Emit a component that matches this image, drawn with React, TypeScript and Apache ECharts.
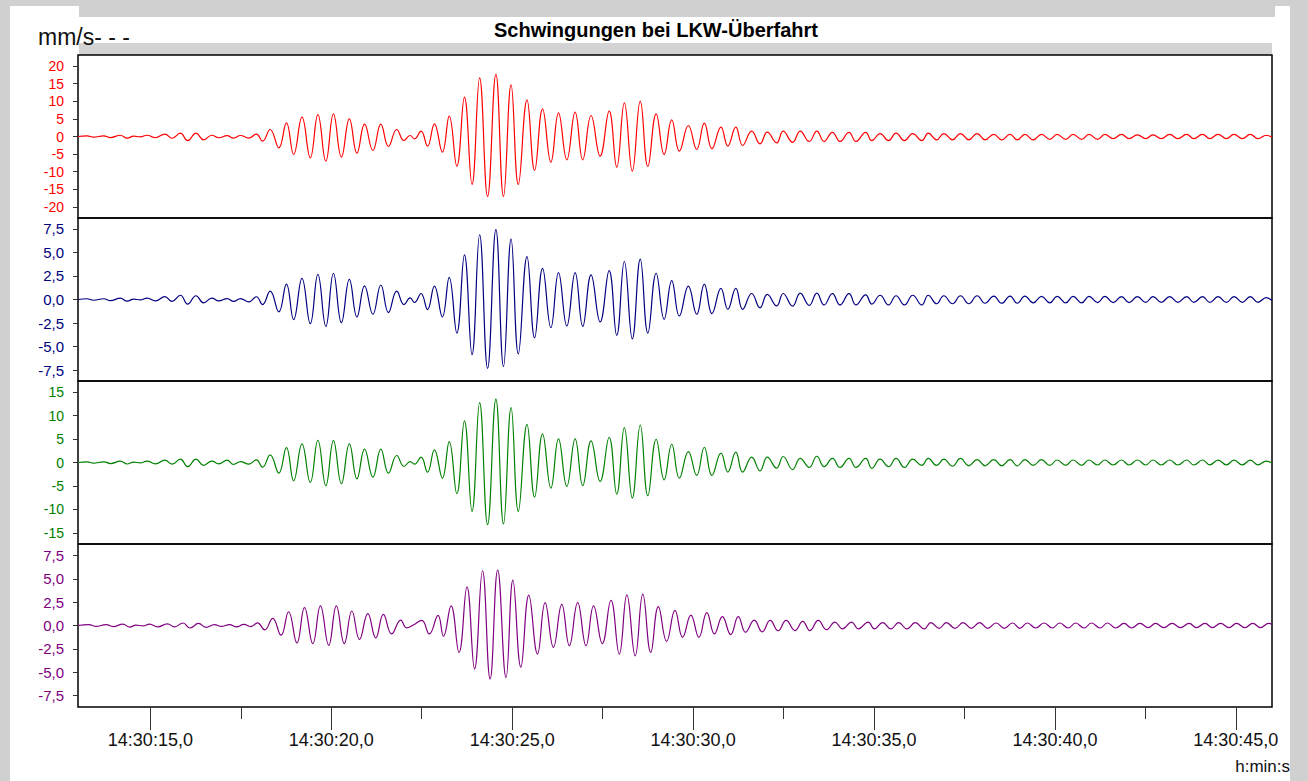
import React, { useEffect, useRef } from "react";
import * as echarts from "echarts";

// ---- time stamps (seconds after 14:30:00) of the signal extrema ----
const timesA = [13.0, 13.25, 13.43, 13.71, 13.9, 14.17, 14.36, 14.54, 14.72, 14.91, 15.14, 15.4, 15.6, 15.83, 16.03, 16.26, 16.47, 16.7, 16.89, 17.12, 17.3];
const timesB = [17.49, 17.72, 17.93, 18.1, 18.31, 18.55, 18.76, 18.96, 19.19, 19.42, 19.63, 19.85, 20.06, 20.28, 20.5, 20.71, 20.92, 21.15, 21.37, 21.58, 21.81, 22.01, 22.18, 22.3, 22.48, 22.66, 22.85, 23.07, 23.26, 23.47, 23.68, 23.89, 24.1, 24.32, 24.55, 24.76];
const timesC = [24.97, 25.17, 25.41, 25.62, 25.84, 26.07, 26.28, 26.51, 26.74, 26.95, 27.18, 27.43, 27.68, 27.89, 28.1, 28.32, 28.54, 28.75, 28.98, 29.2, 29.41, 29.62, 29.87, 30.1, 30.31, 30.52, 30.77, 30.96, 31.18, 31.37, 31.62, 31.85, 32.05, 32.31, 32.49];
const timesD = [
  32.75, 32.96, 33.21, 33.42, 33.62, 33.85, 34.06, 34.31, 34.5, 34.77,
  34.94, 35.17, 35.4, 35.61, 35.84, 36.07, 36.32, 36.5, 36.73, 36.93,
  37.17, 37.39, 37.62, 37.85, 38.07, 38.31, 38.53, 38.76, 38.96, 39.17,
  39.4, 39.63, 39.86, 40.06, 40.3, 40.5, 40.74, 40.94, 41.18, 41.38,
  41.61, 41.84, 42.05, 42.28, 42.51, 42.71, 42.94, 43.17, 43.4, 43.64,
  43.84, 44.08, 44.28, 44.51, 44.74, 44.95, 45.18, 45.4, 45.61, 45.84,
  46.0,
];

// ---- channel 1 (red) ----
const redA = [0, 0.2, -0.2, 0.2, -0.3, 0.35, -0.45, 0.1, -0.1, 0.35, -0.35, 0.7, -0.5, 0.94, -1.18, 0.94, -0.94, 0.35, -0.35, 0.24, -0.47];
const redB = [0.28, -0.47, 0.66, -1.32, 1.99, -3.21, 3.88, -5.11, 5.48, -6.05, 6.24, -7.0, 6.43, -5.86, 5.01, -4.73, 3.5, -3.97, 3.5, -2.84, 1.99, -1.13, 0.28, -0.66, 1.51, -2.74, 3.59, -4.44, 5.77, -8.42, 11.16, -13.62, 16.64, -17.02, 17.68, -17.02];
const redC = [14.66, -13.62, 10.4, -9.65, 7.85, -7.28, 6.71, -6.62, 6.9, -6.62, 5.96, -5.58, 7.19, -8.7, 9.55, -9.83, 10.02, -8.51, 6.43, -5.11, 4.73, -4.16, 3.12, -3.69, 3.78, -3.5, 2.65, -2.74, 2.65, -2.55, 1.51, -2.08, 1.23, -1.8, 1.51];
const redD = [
  -1.65, 1.53, -1.41, 1.53, -1.41, 1.18, -1.41, 1.18, -1.41, 1.18,
  -1.18, 0.83, -1.18, 0.94, -1.18, 0.83, -1.18, 0.94, -0.94, 0.83,
  -0.94, 0.83, -0.94, 0.83, -0.94, 0.6, -0.94, 0.6, -0.94, 0.6,
  -0.94, 0.6, -0.83, 0.6, -0.83, 0.6, -0.83, 0.6, -0.83, 0.6,
  -0.6, 0.6, -0.6, 0.47, -0.6, 0.47, -0.6, 0.6, -0.6, 0.6,
  -0.6, 0.6, -0.6, 0.6, -0.6, 0.6, -0.6, 0.6, -0.6, 0.35,
  -0.2,
];

// ---- channel 2 (navy) ----
const blueA = [0, 0.08, -0.08, 0.08, -0.12, 0.14, -0.18, 0.05, -0.05, 0.15, -0.15, 0.3, -0.2, 0.45, -0.5, 0.4, -0.36, 0.15, -0.15, 0.1, -0.2];
const blueB = [0.1, -0.25, 0.29, -0.54, 0.89, -1.32, 1.64, -2.14, 2.25, -2.57, 2.68, -2.86, 2.79, -2.46, 2.14, -1.86, 1.46, -1.57, 1.54, -1.39, 0.89, -0.54, 0.18, -0.32, 0.64, -1.07, 1.43, -1.86, 2.36, -3.57, 4.75, -5.86, 6.89, -7.32, 7.43, -7.14];
const blueC = [6.43, -5.79, 4.57, -4.07, 3.32, -3.0, 2.86, -2.82, 2.86, -2.86, 2.61, -2.39, 3.07, -3.82, 4.04, -4.18, 4.29, -3.57, 2.79, -2.11, 2.0, -1.75, 1.43, -1.57, 1.64, -1.5, 1.18, -1.04, 1.18, -1.04, 0.64, -0.89, 0.54, -0.68, 0.64];
const blueD = [
  -0.71, 0.67, -0.63, 0.67, -0.58, 0.62, -0.58, 0.62, -0.58, 0.49,
  -0.49, 0.45, -0.58, 0.4, -0.58, 0.45, -0.58, 0.45, -0.45, 0.4,
  -0.45, 0.4, -0.45, 0.4, -0.4, 0.36, -0.4, 0.36, -0.4, 0.36,
  -0.36, 0.33, -0.36, 0.33, -0.36, 0.33, -0.36, 0.33, -0.33, 0.33,
  -0.33, 0.3, -0.33, 0.3, -0.3, 0.3, -0.3, 0.3, -0.3, 0.3,
  -0.3, 0.3, -0.3, 0.3, -0.3, 0.3, -0.3, 0.3, -0.3, 0.2,
  -0.1,
];

// ---- channel 3 (green) ----
const greenA = [0, 0.15, -0.15, 0.15, -0.22, 0.28, -0.32, 0.1, -0.1, 0.28, -0.28, 0.5, -0.35, 0.7, -0.9, 0.7, -0.6, 0.28, -0.3, 0.5, -0.4];
const greenB = [0.2, -0.35, 0.57, -1.0, 1.63, -2.27, 3.19, -3.9, 3.97, -4.26, 4.75, -4.96, 4.68, -4.54, 3.97, -3.48, 2.84, -3.12, 2.84, -2.27, 1.49, -0.85, 0.2, -0.35, 1.13, -2.06, 2.7, -3.33, 4.47, -6.67, 8.87, -10.43, 12.77, -13.26, 13.55, -13.12];
const greenC = [11.7, -10.43, 8.16, -7.38, 6.1, -5.46, 5.04, -5.1, 5.04, -4.96, 4.61, -4.04, 5.39, -6.74, 7.45, -7.59, 8.01, -7.09, 4.96, -3.69, 3.9, -3.33, 2.34, -2.77, 3.26, -2.77, 1.99, -2.06, 2.2, -2.06, 1.13, -1.77, 1.13, -1.2, 1.28];
const greenD = [
  -1.5, 0.88, -1.06, 1.33, -0.88, 0.88, -1.06, 0.88, -1.06, 0.88,
  -1.24, 0.7, -0.88, 0.88, -1.06, 0.7, -0.62, 0.88, -0.62, 0.7,
  -0.8, 0.88, -0.7, 0.62, -0.7, 0.62, -0.7, 0.62, -0.7, 0.62,
  -0.62, 0.62, -0.62, 0.53, -0.62, 0.53, -0.62, 0.53, -0.53, 0.53,
  -0.53, 0.53, -0.53, 0.53, -0.53, 0.53, -0.53, 0.53, -0.53, 0.53,
  -0.53, 0.53, -0.5, 0.5, -0.5, 0.5, -0.5, 0.5, -0.5, 0.3,
  -0.1,
];

// ---- channel 4 (purple), slightly delayed extrema ----
const purpleTimes = [
  13.0, 13.3, 13.5, 13.78, 13.97, 14.24, 14.43, 14.6, 14.8, 14.98, 15.2, 15.47, 15.67, 15.9, 16.1, 16.33, 16.54, 16.77, 16.96, 17.19, 17.38,
  17.58, 17.78, 17.96, 18.16, 18.38, 18.61, 18.82, 19.05, 19.26, 19.49, 19.7, 19.93, 20.14, 20.36, 20.57, 20.78, 21.01, 21.23, 21.44, 21.67, 21.92, 22.08, 22.27, 22.5, 22.71, 22.95, 23.1, 23.31, 23.53, 23.75, 23.96, 24.18, 24.39, 24.6, 24.83,
  25.02, 25.24, 25.46, 25.7, 25.91, 26.14, 26.37, 26.58, 26.81, 27.04, 27.25, 27.49, 27.73, 27.96, 28.17, 28.4, 28.61, 28.83, 29.04, 29.27, 29.5, 29.71, 29.94, 30.16, 30.38, 30.59, 30.81, 31.04, 31.25, 31.45, 31.69, 31.91, 32.13, 32.35, 32.57,
  32.82, 33.03, 33.23, 33.46, 33.69, 33.92, 34.13, 34.38, 34.57, 34.84,
  35.01, 35.24, 35.47, 35.68, 35.91, 36.14, 36.39, 36.57, 36.8, 37.0,
  37.24, 37.46, 37.69, 37.92, 38.14, 38.38, 38.6, 38.83, 39.03, 39.24,
  39.47, 39.7, 39.93, 40.13, 40.37, 40.57, 40.81, 41.01, 41.25, 41.45,
  41.68, 41.91, 42.12, 42.35, 42.58, 42.78, 43.01, 43.24, 43.47, 43.71,
  43.91, 44.15, 44.35, 44.58, 44.81, 45.02, 45.25, 45.47, 45.68, 45.91,
  46.0,
];
const purpleValues = [
  0, 0.1, -0.1, 0.1, -0.12, 0.15, -0.18, 0.05, -0.05, 0.15, -0.15, 0.18, -0.15, 0.27, -0.27, 0.22, -0.2, 0.1, -0.1, 0.1, -0.15,
  0.11, -0.11, 0.29, -0.47, 0.76, -1.04, 1.47, -1.87, 1.91, -1.94, 2.09, -2.12, 2.09, -1.94, 1.55, -1.51, 1.26, -1.33, 1.19, -0.9, 0.58, -0.25, 0.05, 0.54, -0.9, 1.08, -1.15, 2.09, -2.88, 4.14, -4.64, 5.86, -5.72, 5.94, -5.58,
  4.86, -4.46, 3.24, -3.06, 2.45, -2.34, 2.27, -2.16, 2.45, -2.16, 2.09, -1.94, 2.7, -3.06, 3.27, -3.24, 3.35, -2.88, 2.01, -1.69, 1.62, -1.26, 1.12, -1.26, 1.37, -0.9, 0.94, -0.97, 0.94, -0.72, 0.58, -0.68, 0.54, -0.56, 0.54,
  -0.54, 0.45, -0.54, 0.54, -0.45, 0.36, -0.36, 0.36, -0.36, 0.36,
  -0.36, 0.3, -0.36, 0.3, -0.36, 0.3, -0.36, 0.3, -0.3, 0.3,
  -0.3, 0.3, -0.3, 0.3, -0.3, 0.27, -0.3, 0.27, -0.3, 0.27,
  -0.27, 0.27, -0.27, 0.27, -0.27, 0.27, -0.27, 0.27, -0.27, 0.27,
  -0.27, 0.22, -0.27, 0.22, -0.22, 0.22, -0.22, 0.22, -0.22, 0.22,
  -0.22, 0.22, -0.22, 0.22, -0.22, 0.22, -0.22, 0.22, -0.22, 0.22,
  0.1,
];

// ---- axes ----
const xMajorTicks = [15, 20, 25, 30, 35, 40, 45];
const xMinorTicks = [17.5, 22.5, 27.5, 32.5, 37.5, 42.5];
const yTicks1 = [-20, -15, -10, -5, 0, 5, 10, 15, 20];
const yTicks2 = [-7.5, -5, -2.5, 0, 2.5, 5, 7.5];
const yTicks3 = [-15, -10, -5, 0, 5, 10, 15];
const yTicks4 = [-7.5, -5, -2.5, 0, 2.5, 5, 7.5];
const yLimits = [23.15, 8.67, 17.4, 8.72];

const TITLE = "Schwingungen bei LKW-Überfahrt";
const UNIT = "mm/s- - -";
const X_UNIT = "h:min:s";

const COLORS = ["#ff0000", "#000080", "#008000", "#800080"];
const FONT = "'Liberation Sans', Arial, sans-serif";

const mainTimes = [...timesA, ...timesB, ...timesC, ...timesD];
const red = [...redA, ...redB, ...redC, ...redD];
const blue = [...blueA, ...blueB, ...blueC, ...blueD];
const green = [...greenA, ...greenB, ...greenC, ...greenD];

const pairs = (ts: number[], vs: number[]) => ts.map((t, i) => [t, vs[i]]);

export default function App() {
  const ref = useRef<HTMLDivElement>(null);
  useEffect(() => {
    if (!ref.current) return;
    const chart = echarts.init(ref.current, undefined, { renderer: "svg" });
    const tops = [55, 218, 381, 544];
    const gridH = 163;
    const ticks = [yTicks1, yTicks2, yTicks3, yTicks4];
    const decimals = [0, 1, 0, 1];
    const labelSizes = [14, 15, 14, 15];
    const grids = tops.map((top) => ({
      left: 78,
      right: 36,
      top,
      height: gridH,
      show: true,
      borderColor: "#000",
      borderWidth: 1.5,
      backgroundColor: "transparent",
    }));
    const xAxes: any[] = tops.map((_, i) => ({
      type: "value",
      gridIndex: i,
      min: 13,
      max: 46,
      position: "bottom",
      axisLine: { show: false, onZero: false },
      splitLine: { show: false },
      axisTick:
        i === 3
          ? { show: true, customValues: xMajorTicks, length: 23, lineStyle: { color: "#333", width: 1 } }
          : { show: false },
      axisLabel:
        i === 3
          ? {
              show: true,
              customValues: xMajorTicks,
              margin: 24,
              color: "#111",
              fontSize: 18,
              fontFamily: FONT,
              formatter: (v: number) => `14:30:${String(Math.round(v)).padStart(2, "0")},0`,
            }
          : { show: false },
    }));
    xAxes.push({
      type: "value",
      gridIndex: 3,
      min: 13,
      max: 46,
      position: "bottom",
      axisLine: { show: false, onZero: false },
      splitLine: { show: false },
      axisTick: { show: true, customValues: xMinorTicks, length: 12, lineStyle: { color: "#333", width: 1 } },
      axisLabel: { show: false },
    });
    const yAxes = tops.map((_, i) => ({
      type: "value",
      gridIndex: i,
      min: -yLimits[i],
      max: yLimits[i],
      axisLine: { show: false, onZero: false },
      splitLine: { show: false },
      axisTick: { show: true, customValues: ticks[i], length: 5, lineStyle: { color: "#333", width: 1 } },
      axisLabel: {
        show: true,
        customValues: ticks[i],
        margin: 14,
        color: COLORS[i],
        fontSize: labelSizes[i],
        fontFamily: FONT,
        formatter: (v: number) => (decimals[i] ? v.toFixed(1).replace(".", ",") : String(Math.round(v))),
      },
    }));
    const seriesData = [pairs(mainTimes, red), pairs(mainTimes, blue), pairs(mainTimes, green), pairs(purpleTimes, purpleValues)];
    const series = seriesData.map((d, i) => ({
      type: "line",
      xAxisIndex: i,
      yAxisIndex: i,
      data: d,
      smooth: 0.45,
      showSymbol: false,
      symbol: "none",
      lineStyle: { color: COLORS[i], width: 1.2 },
      z: 3,
    }));
    chart.setOption({
      animation: false,
      grid: grids,
      xAxis: xAxes,
      yAxis: yAxes,
      series,
      graphic: [
        { type: "rect", z: -20, silent: true, shape: { x: 0, y: 0, width: 1308, height: 781 }, style: { fill: "#d0d0d0" } },
        { type: "rect", z: -19, silent: true, shape: { x: 10, y: 6, width: 1280, height: 775 }, style: { fill: "#ffffff" } },
        { type: "rect", z: -18, silent: true, shape: { x: 79, y: 0, width: 1196, height: 17 }, style: { fill: "#d0d0d0" } },
        { type: "rect", z: -18, silent: true, shape: { x: 79, y: 43, width: 1193, height: 12 }, style: { fill: "#d3d3d3" } },
        {
          type: "text",
          z: 10,
          style: { text: TITLE, x: 656, y: 30, textAlign: "center", textVerticalAlign: "middle", font: `bold 20px ${FONT}`, fill: "#000" },
        },
        {
          type: "text",
          z: 10,
          style: { text: UNIT, x: 38, y: 37, textAlign: "left", textVerticalAlign: "middle", font: `23px ${FONT}`, fill: "#111" },
        },
        {
          type: "text",
          z: 10,
          style: { text: X_UNIT, x: 1290, y: 766, textAlign: "right", textVerticalAlign: "middle", font: `17px ${FONT}`, fill: "#111" },
        },
      ],
    });
    return () => chart.dispose();
  }, []);
  return <div ref={ref} style={{ position: "absolute", left: 0, top: 0, width: 1308, height: 781 }} />;
}
